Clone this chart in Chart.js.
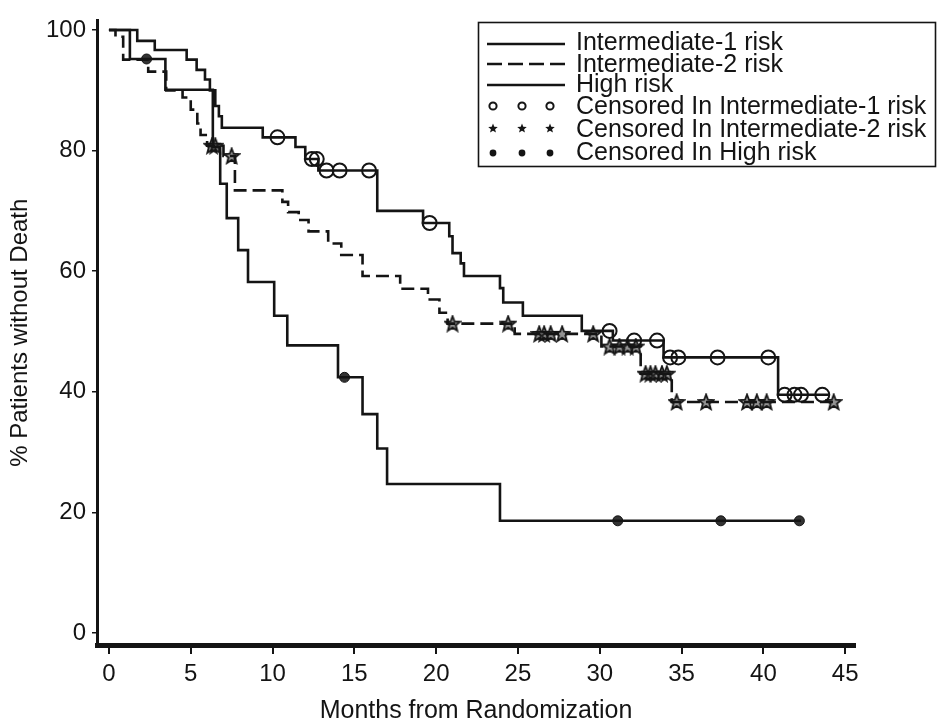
<!DOCTYPE html>
<html><head><meta charset="utf-8">
<script src="https://cdn.jsdelivr.net/npm/chart.js@4.4.1/dist/chart.umd.min.js"></script>
<style>html,body{margin:0;padding:0;background:#fff;}#wrap{width:939px;height:724px;position:relative;}</style>
</head><body><div id="wrap"><canvas id="c" width="939" height="724"></canvas></div>
<script>
// ---- data ----
const xTickValues = [0, 5, 10, 15, 20, 25, 30, 35, 40, 45];
const yTickValues = [0, 20, 40, 60, 80, 100];

const int1Times = [0, 1.73, 2.8, 4.75, 5.36, 5.87, 6.17, 6.5, 6.72, 6.9, 9.4, 11.4, 12.0, 12.8, 16.4, 19.2, 20.8, 21.0, 21.5, 21.7, 23.9, 24.1, 25.3, 28.9, 30.8, 33.9, 40.9, 44.0];
const int1Surv  = [100, 98.2, 96.7, 95.1, 93.4, 91.8, 90.0, 87.4, 85.7, 83.8, 82.2, 80.6, 78.6, 76.7, 70.0, 68.0, 65.8, 63.0, 61.3, 59.2, 57.2, 54.8, 52.6, 50.1, 48.5, 45.7, 39.5, 39.5];
const int1Censor = [10.3, 12.4, 12.7, 13.3, 14.1, 15.9, 19.6, 30.6, 32.1, 33.5, 34.3, 34.8, 37.2, 40.3, 41.3, 41.9, 42.3, 43.6];

const int2Times = [0, 0.4, 0.87, 2.4, 3.5, 4.5, 5.0, 5.4, 5.6, 6.0, 7.0, 7.7, 10.6, 10.95, 11.6, 12.2, 13.4, 14.2, 15.5, 17.8, 19.5, 20.2, 20.7, 24.8, 30.1, 32.5, 34.4, 44.6];
const int2Surv  = [100, 98.9, 95.1, 93.1, 90.0, 88.8, 86.8, 84.5, 82.6, 80.8, 79.1, 73.4, 71.5, 69.8, 68.5, 66.6, 64.6, 62.7, 59.2, 57.1, 55.3, 53.1, 51.3, 49.6, 47.5, 43.0, 38.3, 38.3];
const int2Censor = [6.3, 6.5, 7.5, 21.0, 24.4, 26.3, 26.6, 27.0, 27.7, 29.6, 30.6, 31.2, 31.7, 32.2, 32.8, 33.1, 33.4, 33.8, 34.1, 34.7, 36.5, 39.0, 39.6, 40.2, 44.3];

const highTimes = [0, 1.28, 3.45, 6.35, 6.8, 7.2, 7.9, 8.5, 10.1, 10.9, 14.0, 15.5, 16.4, 17.0, 23.9, 42.3];
const highSurv  = [100, 95.2, 90.1, 80.6, 74.5, 68.8, 63.5, 58.2, 52.6, 47.7, 42.4, 36.3, 30.6, 24.7, 18.6, 18.6];
const highCensor = [2.3, 14.4, 31.1, 37.4, 42.2];

const seriesNames = ['Intermediate-1 risk', 'Intermediate-2 risk', 'High risk'];
const censorNames = ['Censored In Intermediate-1 risk', 'Censored In Intermediate-2 risk', 'Censored In High risk'];
const xTitle = 'Months from Randomization';
const yTitle = '% Patients without Death';

// ---- helpers ----
const INK = '#141414';
const FONT = '"Liberation Sans", Arial, sans-serif';
function steps(times, surv) { return times.map((t, i) => ({x: t, y: surv[i]})); }
function survAt(times, surv, t) { let v = surv[0]; for (let i = 0; i < times.length; i++) { if (times[i] <= t) v = surv[i]; } return v; }
function censorPts(c, times, surv) { return c.map(t => ({x: t, y: survAt(times, surv, t)})); }

function starPath(ctx, cx, cy, ro, ri) {
  ctx.beginPath();
  for (let i = 0; i < 10; i++) {
    const r = i % 2 === 0 ? ro : ri;
    const a = -Math.PI / 2 + i * Math.PI / 5;
    const px = cx + r * Math.cos(a), py = cy + r * Math.sin(a);
    if (i === 0) ctx.moveTo(px, py); else ctx.lineTo(px, py);
  }
  ctx.closePath();
}
const starImg = document.createElement('canvas');
starImg.width = 18; starImg.height = 18;
(function () {
  const g = starImg.getContext('2d');
  starPath(g, 9, 9.5, 8, 3.4);
  g.fillStyle = 'rgba(40,40,40,0.5)';
  g.fill();
  g.lineWidth = 1.8; g.strokeStyle = INK; g.stroke();
})();

const lineBase = {borderColor: INK, borderWidth: 2.6, pointRadius: 0, fill: false, stepped: 'before', tension: 0, clip: false};

const legendPlugin = {
  id: 'kmLegend',
  afterDraw(chart) {
    const ctx = chart.ctx;
    ctx.save();
    ctx.strokeStyle = INK; ctx.lineWidth = 1.6;
    ctx.strokeRect(478.5, 22.5, 457, 144);
    ctx.font = '25px ' + FONT;
    ctx.fillStyle = INK; ctx.textBaseline = 'middle'; ctx.textAlign = 'left';
    const rowsY = [43, 65, 85, 107, 130, 153];
    const lineY = [44, 64, 85];
    ctx.lineWidth = 2.6;
    lineY.forEach((y, i) => {
      ctx.setLineDash(i === 1 ? [15, 6] : []);
      ctx.beginPath(); ctx.moveTo(487, y); ctx.lineTo(565, y); ctx.stroke();
    });
    ctx.setLineDash([]);
    seriesNames.forEach((n, i) => ctx.fillText(n, 576, rowsY[i]));
    censorNames.forEach((n, i) => ctx.fillText(n, 576, rowsY[i + 3]));
    const mx = [493, 522, 550];
    mx.forEach(x => {
      ctx.lineWidth = 2; ctx.beginPath(); ctx.arc(x, 106, 3.6, 0, Math.PI * 2); ctx.stroke();
      starPath(ctx, x, 128.5, 5, 2.2); ctx.fillStyle = INK; ctx.fill();
      ctx.beginPath(); ctx.arc(x, 153, 3.4, 0, Math.PI * 2); ctx.fill();
    });
    ctx.restore();
  }
};

new Chart(document.getElementById('c'), {
  type: 'line',
  data: {
    datasets: [
      Object.assign({label: seriesNames[0], data: steps(int1Times, int1Surv)}, lineBase),
      Object.assign({label: seriesNames[1], data: steps(int2Times, int2Surv), borderDash: [13, 6]}, lineBase),
      Object.assign({label: seriesNames[2], data: steps(highTimes, highSurv)}, lineBase),
      {label: censorNames[0], data: censorPts(int1Censor, int1Times, int1Surv), showLine: false, pointStyle: 'circle', pointRadius: 7, pointBackgroundColor: 'rgba(0,0,0,0)', pointBorderColor: INK, pointBorderWidth: 2, clip: false},
      {label: censorNames[1], data: censorPts(int2Censor, int2Times, int2Surv), showLine: false, pointStyle: starImg, pointRadius: 8, clip: false},
      {label: censorNames[2], data: censorPts(highCensor, highTimes, highSurv), showLine: false, pointStyle: 'circle', pointRadius: 5, pointBackgroundColor: '#333', pointBorderColor: INK, pointBorderWidth: 1, clip: false}
    ]
  },
  options: {
    responsive: false,
    devicePixelRatio: 1,
    animation: false,
    events: [],
    layout: {padding: {top: 15, right: 84, left: 0, bottom: 0}},
    plugins: {legend: {display: false}, tooltip: {enabled: false}, title: {display: false}},
    scales: {
      x: {
        type: 'linear', min: -0.73, max: 45.6,
        afterBuildTicks: s => { s.ticks = xTickValues.map(v => ({value: v})); },
        afterFit: s => { s.height = 79; },
        ticks: {font: {family: FONT, size: 24}, color: INK, padding: 6, maxRotation: 0, autoSkip: false},
        grid: {display: true, drawOnChartArea: false, drawTicks: true, tickLength: 9, color: INK, lineWidth: 2},
        border: {display: true, color: INK, width: 5},
        title: {display: true, text: xTitle, font: {family: FONT, size: 25}, color: INK, padding: {top: 0, bottom: -2}}
      },
      y: {
        type: 'linear', min: -2, max: 101.6,
        afterBuildTicks: s => { s.ticks = yTickValues.map(v => ({value: v})); },
        afterFit: s => { s.width = 97; },
        ticks: {font: {family: FONT, size: 24}, color: INK, padding: 6, autoSkip: false},
        grid: {display: true, drawOnChartArea: false, drawTicks: true, tickLength: 5, color: INK, lineWidth: 1.5},
        border: {display: true, color: INK, width: 3},
        title: {display: true, text: yTitle, font: {family: FONT, size: 24}, color: INK, padding: {top: 6, bottom: 0}}
      }
    }
  },
  plugins: [legendPlugin]
});
</script></body></html>
